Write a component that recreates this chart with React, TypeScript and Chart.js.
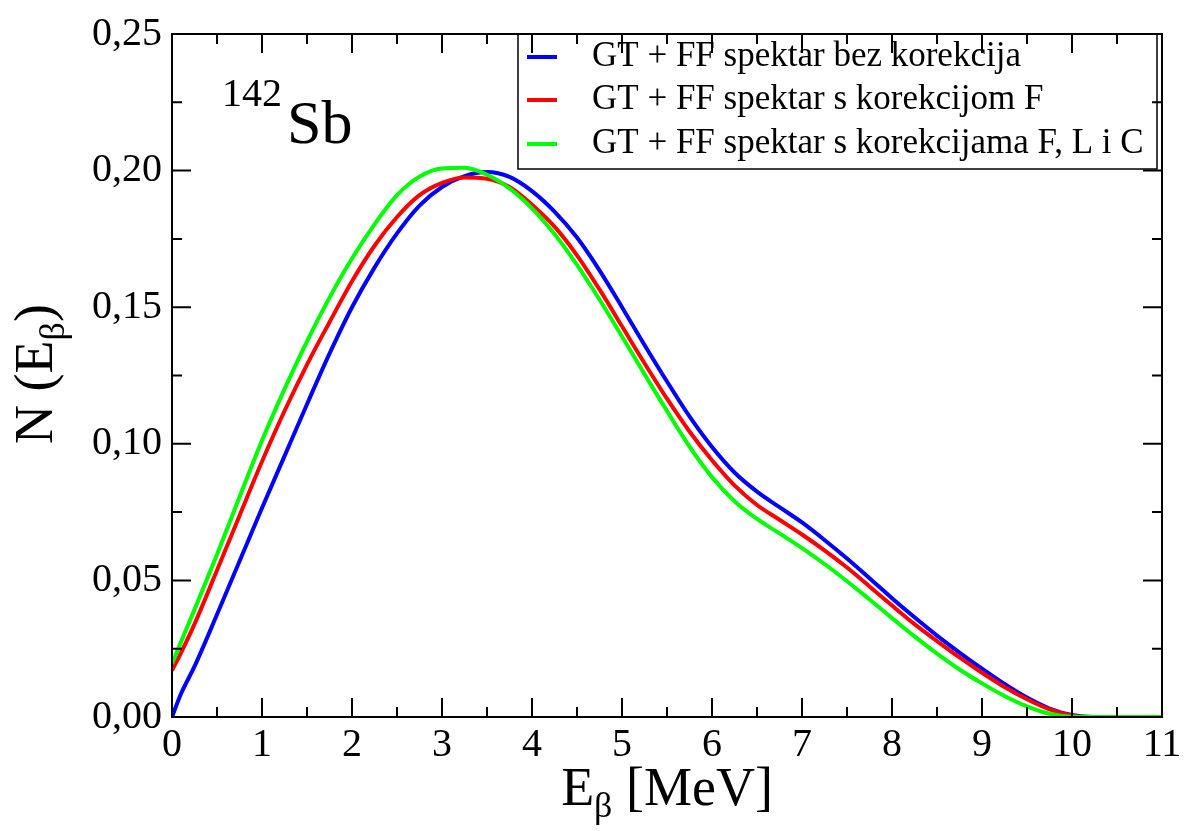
import { useEffect, useRef } from 'react';
import { Chart, registerables } from 'chart.js';

Chart.register(...registerables);

const FONT = "'Liberation Serif', 'Times New Roman', serif";

const energies = [
  0, 0.1, 0.25, 0.5, 0.75, 1.0, 1.25, 1.5, 1.75, 2.0, 2.25, 2.5, 2.75, 3.0, 3.25, 3.5, 3.75,
  4.0, 4.25, 4.5, 4.75, 5.0, 5.25, 5.5, 5.75, 6.0, 6.25, 6.5, 6.75, 7.0, 7.25, 7.5, 7.75,
  8.0, 8.25, 8.5, 8.75, 9.0, 9.25, 9.5, 9.75, 10.0, 10.25, 10.5, 11.0,
];

const spectrumNoCorr = [
  0.0, 0.0085, 0.0185, 0.0375, 0.057, 0.0765, 0.0955, 0.1145, 0.133, 0.15, 0.1645, 0.177,
  0.1872, 0.194, 0.198, 0.1995, 0.1977, 0.1925, 0.185, 0.1755, 0.1635, 0.15, 0.1362, 0.1228,
  0.11, 0.0988, 0.0895, 0.0825, 0.0768, 0.0712, 0.0648, 0.058, 0.0508, 0.0435, 0.0365,
  0.0298, 0.0236, 0.0177, 0.0121, 0.0071, 0.0031, 0.0007, 0.0, 0.0, 0.0,
];

const spectrumF = [
  0.017, 0.0235, 0.034, 0.0537, 0.0737, 0.0935, 0.112, 0.129, 0.1445, 0.1595, 0.1725, 0.183,
  0.191, 0.1955, 0.1975, 0.197, 0.194, 0.1875, 0.1795, 0.169, 0.1565, 0.143, 0.1295, 0.1165,
  0.1045, 0.094, 0.0848, 0.0776, 0.0722, 0.0668, 0.061, 0.0547, 0.0478, 0.0408, 0.034, 0.0278,
  0.0218, 0.0162, 0.011, 0.0065, 0.0028, 0.0006, 0.0, 0.0, 0.0,
];

const spectrumFLC = [
  0.0195, 0.0275, 0.0393, 0.0595, 0.0805, 0.1012, 0.12, 0.1375, 0.1535, 0.1678, 0.1803, 0.191,
  0.1978, 0.2008, 0.201, 0.1985, 0.1935, 0.1862, 0.1768, 0.1655, 0.1528, 0.1393, 0.1255, 0.112,
  0.099, 0.0878, 0.079, 0.0725, 0.0672, 0.0618, 0.056, 0.0497, 0.043, 0.0362, 0.0295, 0.0232,
  0.0174, 0.0123, 0.0077, 0.0039, 0.0012, 0.0001, 0.0, 0.0, 0.0,
];

const seriesLabels = [
  'GT + FF spektar bez korekcija',
  'GT + FF spektar s korekcijom F',
  'GT + FF spektar s korekcijama F, L i C',
];
const seriesColors = ['#0000ff', '#ff0000', '#00ff00'];

const xTickStep = 1;
const xMinorStep = 0.5;
const yTickStep = 0.05;
const yMinorStep = 0.025;

type Run = { text: string; size: number; dy: number };

function drawRuns(ctx: CanvasRenderingContext2D, runs: Run[], x: number, y: number, align: 'left' | 'center') {
  let total = 0;
  const widths: number[] = [];
  for (const r of runs) {
    ctx.font = `${r.size}px ${FONT}`;
    const w = ctx.measureText(r.text).width;
    widths.push(w);
    total += w;
  }
  let cx = align === 'center' ? x - total / 2 : x;
  ctx.textAlign = 'left';
  ctx.textBaseline = 'alphabetic';
  runs.forEach((r, i) => {
    ctx.font = `${r.size}px ${FONT}`;
    ctx.fillText(r.text, cx, y + r.dy);
    cx += widths[i];
  });
}

const decorPlugin = {
  id: 'decor',
  afterDraw(chart: any) {
    const ctx: CanvasRenderingContext2D = chart.ctx;
    const { left, right, top, bottom } = chart.chartArea;
    const xs = chart.scales.x;
    const ys = chart.scales.y;
    ctx.save();
    ctx.strokeStyle = '#000';
    ctx.fillStyle = '#000';
    ctx.lineWidth = 2;
    ctx.strokeRect(left, top, right - left, bottom - top);

    // inward ticks on all sides
    ctx.beginPath();
    for (let v = xs.min; v <= xs.max + 1e-9; v += xMinorStep) {
      const major = Math.abs(v / xTickStep - Math.round(v / xTickStep)) < 1e-6;
      const len = major ? 19 : 10;
      const px = xs.getPixelForValue(v);
      ctx.moveTo(px, bottom);
      ctx.lineTo(px, bottom - len);
      ctx.moveTo(px, top);
      ctx.lineTo(px, top + len);
    }
    for (let v = ys.min; v <= ys.max + 1e-9; v += yMinorStep) {
      const major = Math.abs(v / yTickStep - Math.round(v / yTickStep)) < 1e-6;
      const len = major ? 19 : 10;
      const py = ys.getPixelForValue(v);
      ctx.moveTo(left, py);
      ctx.lineTo(left + len, py);
      ctx.moveTo(right, py);
      ctx.lineTo(right - len, py);
    }
    ctx.stroke();

    // axis titles
    drawRuns(
      ctx,
      [
        { text: 'E', size: 54, dy: 0 },
        { text: 'β', size: 36, dy: 12 },
        { text: ' [MeV]', size: 54, dy: 0 },
      ],
      (left + right) / 2,
      805,
      'center'
    );
    ctx.save();
    ctx.translate(52, 374);
    ctx.rotate(-Math.PI / 2);
    drawRuns(
      ctx,
      [
        { text: 'N (E', size: 54, dy: 0 },
        { text: 'β', size: 36, dy: 12 },
        { text: ')', size: 54, dy: 0 },
      ],
      0,
      0,
      'center'
    );
    ctx.restore();

    // nucleus annotation
    drawRuns(ctx, [{ text: '142', size: 40, dy: 0 }], 222, 106, 'left');
    drawRuns(ctx, [{ text: 'Sb', size: 62, dy: 0 }], 287, 143, 'left');

    // legend
    const lx = 518;
    const ly = 34;
    ctx.lineWidth = 1.5;
    ctx.strokeRect(lx, ly, 639, 135);
    const rows = [57, 100, 144];
    chart.data.datasets.forEach((ds: any, i: number) => {
      ctx.beginPath();
      ctx.strokeStyle = ds.borderColor;
      ctx.lineWidth = 4;
      ctx.moveTo(527, rows[i]);
      ctx.lineTo(557, rows[i]);
      ctx.stroke();
      ctx.fillStyle = '#000';
      ctx.font = `35px ${FONT}`;
      ctx.textAlign = 'left';
      ctx.textBaseline = 'middle';
      ctx.fillText(ds.label, 592, rows[i]);
    });
    ctx.restore();
  },
};

export default function App() {
  const ref = useRef<HTMLCanvasElement | null>(null);

  useEffect(() => {
    if (!ref.current) return;
    const seriesValues = [spectrumNoCorr, spectrumF, spectrumFLC];
    const chart = new Chart(ref.current, {
      type: 'line',
      data: {
        datasets: seriesValues.map((vals, i) => ({
          label: seriesLabels[i],
          data: energies.map((e, j) => ({ x: e, y: vals[j] })),
          borderColor: seriesColors[i],
          backgroundColor: seriesColors[i],
          borderWidth: 4,
          pointRadius: 0,
          fill: false,
          cubicInterpolationMode: 'monotone' as const,
          order: 2 - i,
        })),
      },
      options: {
        responsive: false,
        animation: false,
        layout: { padding: { left: 0, top: 25, right: 29, bottom: 0 } },
        plugins: {
          legend: { display: false },
          tooltip: { enabled: false },
        },
        scales: {
          x: {
            type: 'linear',
            min: 0,
            max: 11,
            grid: { display: false, drawTicks: false },
            border: { display: false },
            afterFit: (s: any) => {
              s.height = 114;
            },
            ticks: {
              stepSize: xTickStep,
              padding: 4,
              color: '#000',
              font: { family: FONT, size: 40 },
              maxRotation: 0,
              callback: (v: any) => String(v),
            },
          },
          y: {
            type: 'linear',
            min: 0,
            max: 0.25,
            grid: { display: false, drawTicks: false },
            border: { display: false },
            afterFit: (s: any) => {
              s.width = 172;
            },
            ticks: {
              stepSize: yTickStep,
              padding: 10,
              color: '#000',
              font: { family: FONT, size: 40 },
              callback: (v: any) => Number(v).toFixed(2).replace('.', ','),
            },
          },
        },
      },
      plugins: [decorPlugin],
    });
    return () => chart.destroy();
  }, []);

  return (
    <div style={{ position: 'fixed', left: 0, top: 0, width: 1191, height: 831, background: '#fff' }}>
      <canvas ref={ref} width={1191} height={831} style={{ width: 1191, height: 831 }} />
    </div>
  );
}
